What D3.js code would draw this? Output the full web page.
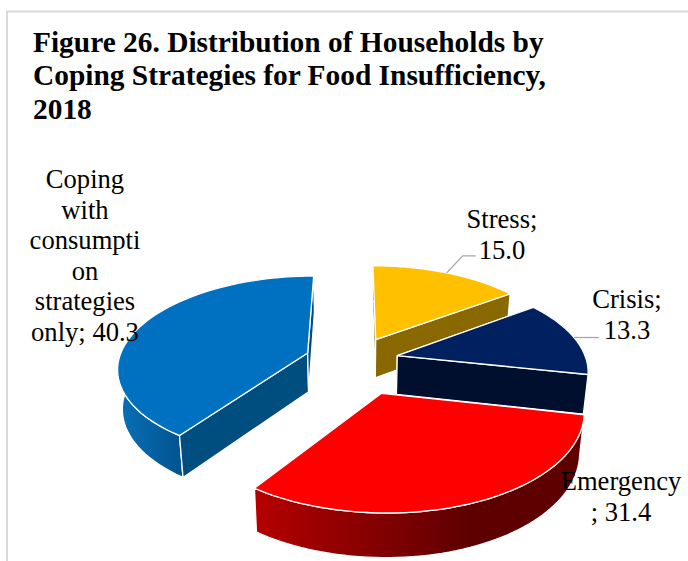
<!DOCTYPE html>
<html>
<head>
<meta charset="utf-8">
<script src="https://cdnjs.cloudflare.com/ajax/libs/d3/7.8.5/d3.min.js"></script>
<style>
  html, body { margin: 0; padding: 0; background: #fff; }
  svg { display: block; }
  text { font-family: "Liberation Serif", serif; fill: #000; }
</style>
</head>
<body>
<svg id="chart" width="688" height="561"></svg>
<script>
// Share of households by coping strategy, clockwise from twelve o'clock
const categories = ["Stress", "Crisis", "Emergency", "Coping with consumption strategies only"];
const shares = [15.0, 13.3, 31.4, 40.3];
const titleLines = ["Figure 26. Distribution of Households by", "Coping Strategies for Food Insufficiency,", "2018"];
const labelLines = [
  ["Stress;", "15.0"],
  ["Crisis;", "13.3"],
  ["Emergency", "; 31.4"],
  ["Coping", "with", "consumpti", "on", "strategies", "only; 40.3"]
];
const topColors = ["#ffc000", "#002060", "#ff0000", "#0070c0"];
const wallColors = ["#8a6800", "#000f2e", "#7a0000", "#004d80"];
const explosions = [0.262, 0.236, 0.375, 0.26];

// Perspective model of the tilted disc
const cx = 354, cy = 360, radiusX = 189, radiusY = 90.5, perspective = 0.15;
const thickness = 39, baseShrink = 0.98;

const project = (u, v, base) => {
  const p = 1 / (1 - perspective * v);
  const x = cx + radiusX * u * p;
  const y = cy + radiusY * v * p;
  return base ? [cx + (x - cx) * baseShrink, y + thickness * Math.pow(p, 0.6)] : [x, y];
};

const svg = d3.select("#chart");
const line = d3.line();
const closed = d3.line().curve(d3.curveLinearClosed);

// Chart frame
svg.append("path")
  .attr("d", "M7,561V11.5H688")
  .attr("fill", "none").attr("stroke", "#d9d9d9").attr("stroke-width", 2);

const defs = svg.append("defs");
const sideShades = [
  null,
  null,
  { id: "sideRed", x1: 254, x2: 470, stops: ["#b50000", "#5e0000"] },
  { id: "sideBlue", x1: 118, x2: 186, stops: ["#0a70b8", "#00528c"] }
];
sideShades.filter(Boolean).forEach(s => {
  const g = defs.append("linearGradient").attr("id", s.id)
    .attr("gradientUnits", "userSpaceOnUse")
    .attr("x1", s.x1).attr("x2", s.x2).attr("y1", 0).attr("y2", 0);
  g.append("stop").attr("offset", 0).attr("stop-color", s.stops[0]);
  g.append("stop").attr("offset", 1).attr("stop-color", s.stops[1]);
});

const arcs = d3.pie().sort(null).startAngle(0).endAngle(2 * Math.PI)(shares);

const paint = (sel, fill) => sel.attr("fill", fill)
  .attr("stroke", "#fff").attr("stroke-width", 1.3).attr("stroke-linejoin", "round");

const geometry = arcs.map((a, i) => {
  const mid = (a.startAngle + a.endAngle) / 2;
  const ou = Math.sin(mid) * explosions[i], ov = -Math.cos(mid) * explosions[i];
  const point = (t, base) => project(ou + Math.sin(t), ov - Math.cos(t), base);
  const ts = d3.range(0, 61).map(k => a.startAngle + (a.endAngle - a.startAngle) * k / 60);
  return { a, i, mid, ou, ov, point, ts };
});

// Slices are painted back to front
[3, 0, 1, 2].forEach(i => {
  const { a, point, ts, ou, ov } = geometry[i];
  const g = svg.append("g");
  const apexTop = project(ou, ov, false), apexBase = project(ou, ov, true);
  const wall = t => [apexTop, point(t, false), point(t, true), apexBase];
  const startFront = -Math.cos(a.startAngle - Math.PI / 2) > 0.01;
  const endFront = -Math.cos(a.endAngle + Math.PI / 2) > -0.01;
  const drawWall = t => paint(g.append("path").attr("d", closed(wall(t))), wallColors[i]);

  if (!startFront) drawWall(a.startAngle);
  if (!endFront) drawWall(a.endAngle);

  const band = ts.map(t => point(t, false)).concat(ts.slice().reverse().map(t => point(t, true)));
  paint(g.append("path").attr("d", closed(band)),
    sideShades[i] ? `url(#${sideShades[i].id})` : wallColors[i]);

  if (startFront) drawWall(a.startAngle);
  if (endFront) drawWall(a.endAngle);

  const face = [apexTop].concat(ts.map(t => point(t, false)));
  paint(g.append("path").attr("d", closed(face)), topColors[i]);
});

// Leader lines from the rim to the two outer labels
const leaderFrom = i => geometry[i].point(geometry[i].mid, false);
const s0 = leaderFrom(0), s1 = leaderFrom(1);
[[s0, [s0[0] + 16, s0[1] - 17], [s0[0] + 29, s0[1] - 17]],
 [s1, [s1[0] + 25, s1[1]]]].forEach(pts => {
  svg.append("path").attr("d", line(pts))
    .attr("fill", "none").attr("stroke", "#a6a6a6").attr("stroke-width", 1.3);
});

// Title
svg.append("g").selectAll("text").data(titleLines).join("text")
  .attr("x", 33).attr("y", (d, i) => 51.5 + i * 33.6)
  .attr("font-size", 29.4).attr("font-weight", "bold").text(d => d);

// Data labels
const labelAnchors = [
  { x: 502, y: 228 },
  { x: 627, y: 308 },
  { x: 621, y: 490 },
  { x: 85, y: 188 }
];
labelLines.forEach((lines, i) => {
  svg.append("g").selectAll("text").data(lines).join("text")
    .attr("x", labelAnchors[i].x)
    .attr("y", (d, k) => labelAnchors[i].y + k * 30.6)
    .attr("text-anchor", "middle").attr("font-size", 26.6).text(d => d);
});
</script>
</body>
</html>
